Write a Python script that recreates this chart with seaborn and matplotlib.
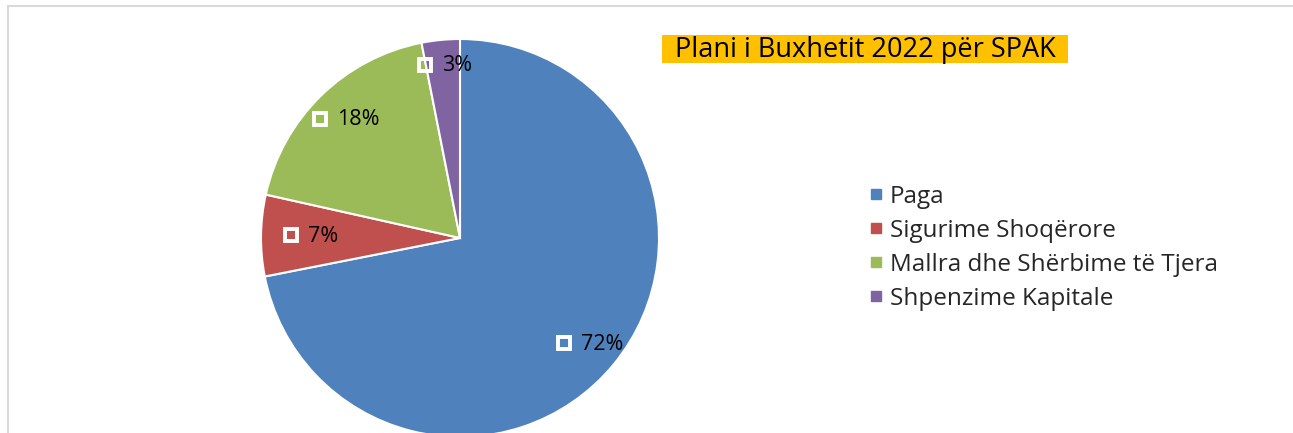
import matplotlib
matplotlib.use('Agg')
import matplotlib.pyplot as plt
import seaborn as sns
import numpy as np
from matplotlib.lines import Line2D
from matplotlib.patches import Rectangle

sns.set_theme(style='white')
plt.rcParams['font.family'] = ['Open Sans', 'DejaVu Sans']

# data
categories = ['Paga', 'Sigurime Shoqërore', 'Mallra dhe Shërbime të Tjera', 'Shpenzime Kapitale']
shares = [71.9, 6.6, 18.4, 3.1]
pct_labels = ['72%', '7%', '18%', '3%']
colors = ['#4F81BD', '#C0504D', '#9BBB59', '#8064A2']
title = 'Plani i Buxhetit 2022 për SPAK'

W, H = 1293, 433
fig = plt.figure(figsize=(W / 100, H / 100), dpi=100)
fig.patch.set_facecolor('white')

# pie axes placed in pixels: centre (460, 238), radius 199
cx, cy, r = 460, 238, 199
ax = fig.add_axes([(cx - r) / W, (H - cy - r) / H, 2 * r / W, 2 * r / H])
wedges, _ = ax.pie(shares, colors=colors, startangle=90, counterclock=False,
                   wedgeprops=dict(edgecolor='white', linewidth=1.5))
ax.set_xlim(-1, 1)
ax.set_ylim(-1, 1)
ax.set_aspect('equal')
ax.axis('off')

# data labels: white hollow square + percent, group centred on the point
label_r = [0.84, 0.755, 0.83, 0.87]
sq, gap = 16, 11  # px
fig.canvas.draw()
renderer = fig.canvas.get_renderer()
for w, lab, lr in zip(wedges, pct_labels, label_r):
    ang = np.deg2rad((w.theta1 + w.theta2) / 2)
    x, y = lr * np.cos(ang), lr * np.sin(ang)
    t = ax.annotate(lab, xy=(x, y), xytext=((sq + gap) / 2, 0), textcoords='offset pixels',
                    ha='center', va='center', fontsize=15.5, color='black')
    tw = t.get_window_extent(renderer).width
    mx = -(sq + gap + tw) / 2 + sq / 2 + 2
    ax.plot([x], [y], marker='s', markersize=8.5, markerfacecolor='none',
            markeredgecolor='white', markeredgewidth=2.8, linestyle='none',
            transform=ax.transData + matplotlib.transforms.ScaledTranslation(mx / 100, 1 / 100, fig.dpi_scale_trans))

# title box
fig.patches.append(Rectangle((662 / W, (H - 63) / H), 406 / W, 28 / H,
                             transform=fig.transFigure, facecolor='#FFC000',
                             edgecolor='none'))
fig.text(865 / W, (H - 50) / H, title, ha='center', va='center',
         fontsize=19.5, color='black')

# legend
handles = [Line2D([], [], marker='s', linestyle='none', markersize=7.8,
                  markerfacecolor=c, markeredgecolor=c) for c in colors]
leg = fig.legend(handles, categories, loc='upper left',
                 bbox_to_anchor=(869 / W, (H - 185) / H), frameon=False,
                 fontsize=17.5, handlelength=0.6, handletextpad=0.25,
                 labelspacing=0.41, borderpad=0, borderaxespad=0)

# outer border lines
fig.add_artist(Line2D([7.5 / W, 7.5 / W], [0, (H - 6) / H], color='#D9D9D9', linewidth=1.5))
fig.add_artist(Line2D([7.5 / W, 1], [(H - 6) / H, (H - 6) / H], color='#D9D9D9', linewidth=1.5))

fig.savefig('out.png', dpi=100)
